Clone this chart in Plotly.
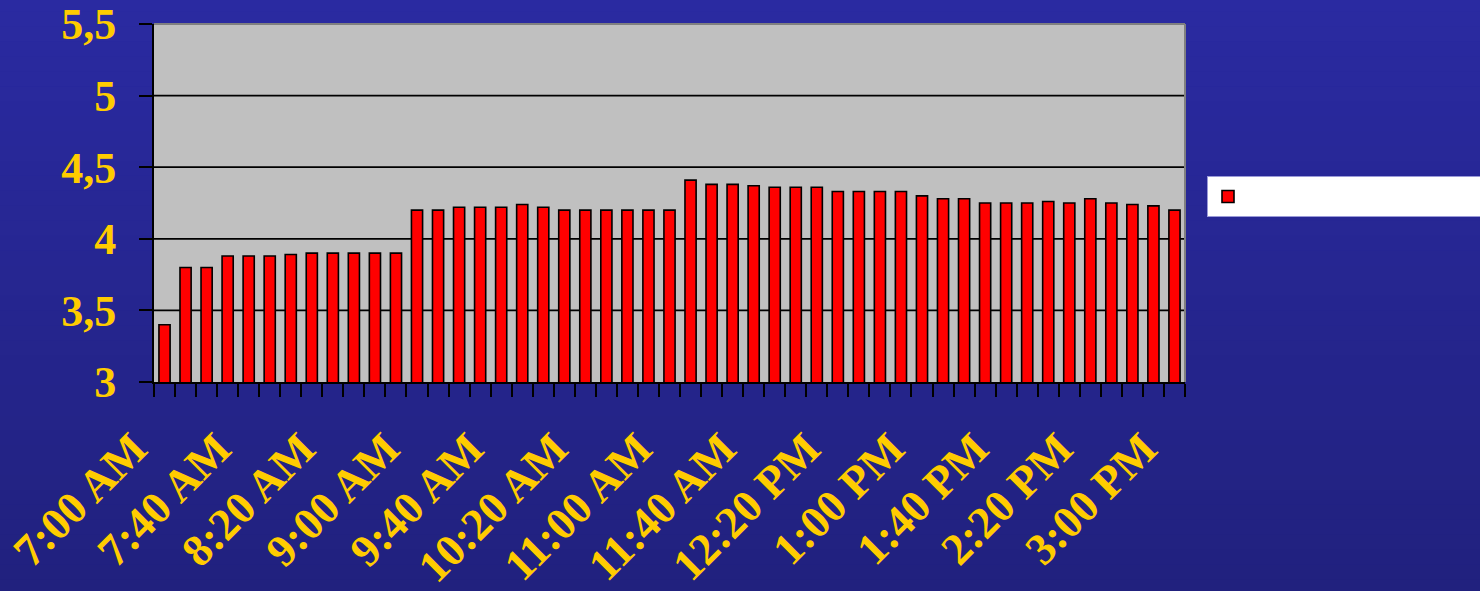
import plotly.graph_objects as go

times = [
    "7:00 AM", "7:10 AM", "7:20 AM", "7:30 AM", "7:40 AM", "7:50 AM",
    "8:00 AM", "8:10 AM", "8:20 AM", "8:30 AM", "8:40 AM", "8:50 AM",
    "9:00 AM", "9:10 AM", "9:20 AM", "9:30 AM", "9:40 AM", "9:50 AM",
    "10:00 AM", "10:10 AM", "10:20 AM", "10:30 AM", "10:40 AM", "10:50 AM",
    "11:00 AM", "11:10 AM", "11:20 AM", "11:30 AM", "11:40 AM", "11:50 AM",
    "12:00 PM", "12:10 PM", "12:20 PM", "12:30 PM", "12:40 PM", "12:50 PM",
    "1:00 PM", "1:10 PM", "1:20 PM", "1:30 PM", "1:40 PM", "1:50 PM",
    "2:00 PM", "2:10 PM", "2:20 PM", "2:30 PM", "2:40 PM", "2:50 PM",
    "3:00 PM",
]

values = [
    3.40, 3.80, 3.80, 3.88, 3.88, 3.88, 3.89, 3.90, 3.90, 3.90, 3.90, 3.90,
    4.20, 4.20, 4.22, 4.22, 4.22, 4.24, 4.22, 4.20, 4.20, 4.20, 4.20, 4.20,
    4.20, 4.41, 4.38, 4.38, 4.37, 4.36, 4.36, 4.36, 4.33, 4.33, 4.33, 4.33,
    4.30, 4.28, 4.28, 4.25, 4.25, 4.25, 4.26, 4.25, 4.28, 4.25, 4.24, 4.23,
    4.20,
]

tick_labels = [
    "7:00 AM", "7:40 AM", "8:20 AM", "9:00 AM", "9:40 AM", "10:20 AM",
    "11:00 AM", "11:40 AM", "12:20 PM", "1:00 PM", "1:40 PM", "2:20 PM",
    "3:00 PM",
]

y_ticks = [3, 3.5, 4, 4.5, 5, 5.5]

positions = list(range(len(times)))
tick_pos = [times.index(t) for t in tick_labels]

W, H = 1480, 591
PL, PR = 154, 1185          # plot area left / right edge in pixels
MT, MB = 24, 209
PH = H - MT - MB

X_RANGE = [-0.5, len(times) - 0.5]
Y_RANGE = [3, 5.5]
px_per_unit = (PR - PL) / (X_RANGE[1] - X_RANGE[0])

# Tick labels live on a second x axis that starts at the left page edge and
# shares the scale of the main axis, shifted so each rotated label ends a
# little left of its category centre (as in the reference).
LABEL_SHIFT = 1.47
x2_right = X_RANGE[1] + LABEL_SHIFT
x2_left = x2_right - PR / px_per_unit
X2_RANGE = [x2_left, x2_right]

YELLOW = "#ffcc00"
FONT = "Liberation Serif, Times New Roman, serif"

fig = go.Figure()
fig.add_trace(go.Bar(
    x=positions,
    y=values,
    name="",
    marker=dict(color="#ff0000", line=dict(color="#000000", width=1.6)),
    width=0.53,
    customdata=times,
    hovertemplate="%{customdata}: %{y}<extra></extra>",
))
# carrier trace for the label axis (draws nothing)
fig.add_trace(go.Scatter(
    x=tick_pos, y=[None] * len(tick_pos), xaxis="x2", yaxis="y",
    mode="markers", showlegend=False, hoverinfo="skip",
))

# vertical gradient background made of bands (paper coordinates)
shapes = []
nb = 40
top = (42, 42, 161)
bot = (33, 33, 126)
y_top, y_bot = 1 + MT / PH + 0.01, -MB / PH - 0.01
for i in range(nb):
    t = i / (nb - 1)
    c = tuple(round(top[k] + (bot[k] - top[k]) * t) for k in range(3))
    ya = y_top + (y_bot - y_top) * i / nb
    yb = y_top + (y_bot - y_top) * (i + 1) / nb
    shapes.append(dict(type="rect", xref="paper", yref="paper",
                       x0=-0.01, x1=1.01, y0=yb - 0.002, y1=ya,
                       fillcolor="rgb(%d,%d,%d)" % c, line=dict(width=0),
                       layer="below"))
xl, xr = PL / W, PR / W
# gray plot area
shapes.append(dict(type="rect", xref="paper", yref="paper", x0=xl, x1=xr, y0=0, y1=1,
                   fillcolor="#c0c0c0", line=dict(width=0), layer="below"))
# horizontal grid lines, limited to the plot area
for v in y_ticks[1:]:
    shapes.append(dict(type="line", xref="x", yref="y",
                       x0=X_RANGE[0], x1=X_RANGE[1], y0=v, y1=v,
                       line=dict(color="#000000", width=1.7), layer="below"))
# gray top and right border of the plot area
shapes.append(dict(type="line", xref="paper", yref="paper", x0=xl, x1=xr, y0=1, y1=1,
                   line=dict(color="#808080", width=2), layer="above"))
shapes.append(dict(type="line", xref="paper", yref="paper", x0=xr, x1=xr, y0=0, y1=1,
                   line=dict(color="#808080", width=2), layer="above"))

fig.update_layout(
    width=W, height=H,
    margin=dict(l=0, r=0, t=MT, b=MB, autoexpand=False),
    paper_bgcolor="#26269a",
    plot_bgcolor="rgba(0,0,0,0)",
    separators=", ",
    bargap=0.47,
    shapes=shapes,
    showlegend=True,
    legend=dict(
        orientation="h",
        x=1207 / W, xanchor="left",
        y=(H - MB - 176) / PH, yanchor="top",
        bgcolor="#ffffff", bordercolor="#9a9ad8", borderwidth=1,
        font=dict(family=FONT, size=20, color="#000000"),
        entrywidth=300, entrywidthmode="pixels",
    ),
    xaxis=dict(
        domain=[xl, xr],
        range=X_RANGE,
        showticklabels=False, ticks="",
        showgrid=False, zeroline=False,
        showline=True, linecolor="#000000", linewidth=2,
        minor=dict(ticks="outside", tick0=-0.5, dtick=1, ticklen=13,
                   tickcolor="#000000", tickwidth=2, showgrid=False),
        fixedrange=True,
    ),
    xaxis2=dict(
        domain=[0, xr],
        range=X2_RANGE, anchor="y", side="bottom",
        tickmode="array", tickvals=tick_pos, ticktext=tick_labels,
        tickangle=-45, ticks="",
        tickfont=dict(family=FONT, size=45, color=YELLOW, weight="bold"),
        showgrid=False, zeroline=False, showline=False,
        ticklabelstandoff=30,
        fixedrange=True,
    ),
    yaxis=dict(
        anchor="x",
        range=Y_RANGE, tickmode="array", tickvals=y_ticks,
        ticks="outside", ticklen=13, tickcolor="#000000", tickwidth=2,
        tickfont=dict(family=FONT, size=44, color=YELLOW, weight="bold"),
        showgrid=False,
        zeroline=False,
        showline=True, linecolor="#000000", linewidth=2,
        ticklabelstandoff=14,
        fixedrange=True,
    ),
)

fig.write_html(
    "out.html",
    config={"displayModeBar": False},
    post_script="document.body.style.margin='0';document.body.style.padding='0';",
)
